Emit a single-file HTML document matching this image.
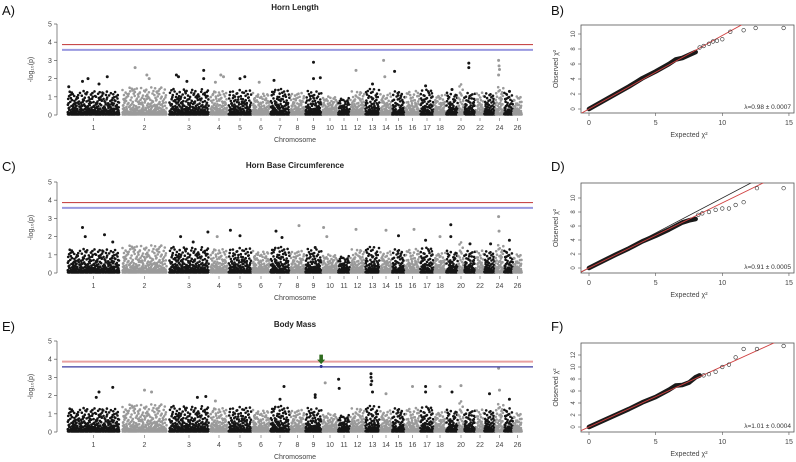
<!DOCTYPE html>
<html><head><meta charset="utf-8"><style>
html,body{margin:0;padding:0;background:#fff;}
svg{display:block;font-family:"Liberation Sans",Arial,sans-serif;}
</style></head><body>
<svg id="fig" width="796" height="462" viewBox="0 0 796 462"></svg>
<script>
// ---- Manhattan data ----
const chromNames = ['1','2','3','4','5','6','7','8','9','10','11','12','13','14','15','16','17','18','19','20','21','22','23','24','25','26'];
const shownLabels = ['1','2','3','4','5','6','7','8','9','10','11','12','13','14','15','16','17','18','20','22','24','26'];
const chromLengths = [55,47,42,18,24,18,20,15,17,16,12,15,15,12,13,15,14,12,12,6,12,8,11,9,9,9];
const bandTop = [1.3,1.5,1.4,1.3,1.35,1.2,1.4,1.2,1.3,1.0,0.9,1.3,1.4,1.2,1.3,1.3,1.4,1.1,1.2,1.7,1.2,1.2,1.2,1.6,1.3,1.0];
const yTicks = [0,1,2,3,4,5];
const redThreshold = 3.87, blueThreshold = 3.58;
const hitsChrA = [1,1,1,1,1,2,2,2,3,3,3,3,3,4,4,4,5,5,6,7,9,9,9,12,13,14,14,15,17,19,21,21,24,24,24,24,25];
const hitsPosA = [.05,.3,.4,.6,.75,.3,.55,.6,.2,.25,.45,.85,.85,.3,.6,.75,.5,.7,.4,.2,.5,.5,.9,.4,.5,.3,.4,.2,.4,.5,.4,.4,.4,.45,.5,.4,.6];
const hitsValA = [1.55,1.85,2.0,1.7,2.1,2.6,2.2,2.0,2.2,2.1,1.85,2.45,2.0,1.8,2.2,2.1,2.0,2.1,1.8,1.9,2.9,2.0,2.05,2.45,1.7,3.0,2.1,2.4,1.6,1.4,2.85,2.6,3.0,2.7,2.5,2.2,1.3];
const hitsChrC = [1,1,1,1,3,3,3,4,5,5,7,7,8,9,10,10,12,14,15,16,17,18,19,19,21,23,24,24,25];
const hitsPosC = [.3,.35,.7,.85,.3,.6,.95,.4,.1,.5,.3,.6,.6,.6,.1,.3,.4,.5,.5,.6,.4,.5,.4,.4,.5,.6,.4,.45,.6];
const hitsValC = [2.5,2.0,2.1,1.7,2.0,1.7,2.25,2.0,2.35,2.05,2.3,1.95,2.6,1.4,2.5,2.0,2.4,2.35,2.05,2.4,1.8,2.0,2.65,2.0,1.6,1.6,3.1,2.3,1.8];
const hitsChrE = [1,1,1,2,2,3,3,4,7,7,9,9,9,10,11,11,13,13,13,13,13,14,16,17,17,18,19,20,23,24,24,25];
const hitsPosE = [.6,.85,.55,.5,.65,.7,.9,.3,.7,.5,.6,.6,.95,.2,.05,.1,.4,.4,.45,.4,.5,.5,.5,.4,.4,.5,.5,.5,.5,.4,.5,.6];
const hitsValE = [2.2,2.45,1.9,2.3,2.2,1.9,1.95,1.7,2.5,1.8,2.05,1.9,3.6,2.7,2.9,2.4,3.2,3.0,2.8,2.6,2.2,2.1,2.5,2.5,2.2,2.5,2.2,2.55,2.1,3.5,2.3,1.8];

// ---- QQ data ----
const qqTicksX = [0,5,10,15];
const bodyExpB = [0,1,2,3,4,5,6,6.5,7,7.5,8];
const bodyObsB = [0,1,2,3,4.1,5,6,6.6,6.8,7.2,7.6];
const tailExpB = [8.3,8.6,9,9.3,9.6,10,10.6,11.6,12.5,14.6];
const tailObsB = [8.2,8.4,8.7,9.0,9.1,9.3,10.3,10.5,10.8,10.8];
const bodyExpD = [0,1,2,3,4,5,6,7,7.5,8];
const bodyObsD = [0,0.95,1.9,2.8,3.8,4.6,5.5,6.5,6.8,7.0];
const tailExpD = [8.2,8.5,9,9.5,10,10.5,11,11.6,12.6,14.6];
const tailObsD = [7.6,7.8,8.0,8.3,8.5,8.5,9.0,9.4,11.4,11.4];
const bodyExpF = [0,1,2,3,4,5,6,6.5,7,7.5,8,8.3];
const bodyObsF = [0,1,2,3,4.1,5,6.2,6.9,7.0,7.4,8.3,8.6];
const tailExpF = [8.6,9,9.5,10,10.5,11,11.6,12.6,14.6];
const tailObsF = [8.6,8.8,9.2,10.0,10.4,11.6,13.0,13.0,13.5];

const NS='http://www.w3.org/2000/svg';
const svg=document.getElementById('fig');
function mk(tag,attrs,parent){const e=document.createElementNS(NS,tag);for(const k in attrs)e.setAttribute(k,attrs[k]);(parent||svg).appendChild(e);return e;}
function txt(s,x,y,size,attrs,parent){const t=mk('text',Object.assign({x:x,y:y,'font-size':size,fill:'#222','text-anchor':'middle'},attrs||{}),parent);t.textContent=s;return t;}
function halton(i,b){let f=1,r=0;while(i>0){f/=b;r+=f*(i%b);i=Math.floor(i/b);}return r;}

const totalLen=chromLengths.reduce((a,b)=>a+b,0);
const starts=[];{let c=0;chromLengths.forEach(l=>{starts.push(c);c+=l;});}

function manhattan(name,title,top,hc,hp,hv,arrow){
  const g=mk('g',{});
  
  
  const y0=top+91, ppu=18.2, x0=66, x1=522, axX=57;
  const ys=v=>y0-v*ppu;
  const xs=(c,f)=>x0+(starts[c]+f*chromLengths[c])/totalLen*(x1-x0);
  const t=txt(title,295,top-14,8,{'font-weight':'bold'},g);
  
  const ax=mk('g',{},g);
  mk('line',{x1:axX,y1:ys(0),x2:axX,y2:ys(5),stroke:'#555','stroke-width':0.7},ax);
  yTicks.forEach(v=>{mk('line',{x1:axX-3,y1:ys(v),x2:axX,y2:ys(v),stroke:'#555','stroke-width':0.7},ax);
    txt(String(v),axX-7,ys(v)+2.5,7,{fill:'#444'},ax);});
  const yt=txt('-log\u2081\u2080(p)',0,0,7,{fill:'#444',transform:`translate(33,${ys(2.5)}) rotate(-90)`},g);
  
  const pts=mk('g',{},g);
  let k=1;
  chromLengths.forEach((L,c)=>{
    const col=(c%2===0)?'#151515':'#9a9a9a';
    const n=Math.round(L*(x1-x0)/totalLen*7);
    let d='';
    for(let i=0;i<n;i++,k++){
      const fx=halton(k,2), u=halton(k,3);
      const v=0.03+bandTop[c]*Math.pow(u,3.2);
      const x=xs(c,0.03+0.94*fx), y=ys(v);
      d+=`M${(x-1.3).toFixed(1)},${y.toFixed(1)}a1.3,1.3 0 1,0 2.6,0a1.3,1.3 0 1,0 -2.6,0`;
    }
    const p=mk('path',{d:d,fill:col},pts);
    
    
  });
  hc.forEach((c,i)=>{
    const col=((c-1)%2===0)?'#151515':'#9a9a9a';
    const cc=mk('circle',{cx:xs(c-1,hp[i]),cy:ys(hv[i]),r:1.5,fill:(hv[i]>3.55&&arrow)?'#1a237e':col},pts);
    
  });
  const rl=mk('line',{x1:62,y1:ys(redThreshold),x2:533,y2:ys(redThreshold),stroke:arrow?'#e8a0a0':'#c84a4a','stroke-width':arrow?2:1.2},g);
  
  const bl=mk('line',{x1:62,y1:ys(blueThreshold),x2:533,y2:ys(blueThreshold),stroke:arrow?'#3a3aa0':'#9a9ae0','stroke-width':arrow?1.2:2},g);
  
  if(arrow){
    const ac=hv.indexOf(3.6);
    const xa=xs(hc[ac]-1,hp[ac]);
    const a=mk('path',{d:`M${xa-1.8},${ys(4.25)}h3.6v5h2.2l-4,4.5l-4,-4.5h2.2z`,fill:'#2e6b1e'},g);
    
  }
  const xa=mk('g',{},g);
  shownLabels.forEach(lab=>{const c=chromNames.indexOf(lab);const x=xs(c,0.5);
    mk('line',{x1:x,y1:y0+3,x2:x,y2:y0+6,stroke:'#666','stroke-width':0.6},xa);
    txt(lab,x,y0+15,7,{fill:'#444'},xa);});
  const xt=txt('Chromosome',295,y0+27,7,{fill:'#444'},g);
  
}

function qq(name,top,bot,y0px,ppuY,yMaxTick,bodyE,bodyO,tailE,tailO,slope,lam,showBlack){
  const g=mk('g',{});
  
  const fx0=581,fx1=794,x0=589,ppuX=13.33;
  const xs=v=>x0+v*ppuX, ys=v=>y0px-v*ppuY;
  const clip='clip-'+name;
  const cp=mk('clipPath',{id:clip},g);mk('rect',{x:fx0,y:top,width:fx1-fx0,height:bot-top},cp);
  const f=mk('rect',{x:fx0,y:top,width:fx1-fx0,height:bot-top,fill:'none',stroke:'#555','stroke-width':0.8},g);
  
  const inner=mk('g',{'clip-path':`url(#${clip})`},g);
  const xa=mk('g',{},g);
  qqTicksX.forEach(v=>{mk('line',{x1:xs(v),y1:bot,x2:xs(v),y2:bot+3,stroke:'#555','stroke-width':0.6},xa);
    txt(String(v),xs(v),bot+12,7,{fill:'#444'},xa);});
  const ya=mk('g',{},g);
  for(let v=0;v<=yMaxTick;v+=2){mk('line',{x1:fx0-3,y1:ys(v),x2:fx0,y2:ys(v),stroke:'#555','stroke-width':0.6},ya);
    txt(String(v),0,0,6,{fill:'#444',transform:`translate(${fx0-6},${ys(v)}) rotate(-90)`},ya);}
  const xt=txt('Expected  \u03c7\u00b2',xs(7.5),bot+24,7,{fill:'#444'},g);
  
  const yt=txt('Observed  \u03c7\u00b2',0,0,7,{fill:'#444',transform:`translate(558,${(top+bot)/2}) rotate(-90)`},g);
  
  if(showBlack){const l=mk('line',{x1:xs(-1),y1:ys(-1),x2:xs(16),y2:ys(16),stroke:'#222','stroke-width':0.8},inner);
    }
  const body=mk('polyline',{points:bodyE.map((e,i)=>`${xs(e)},${ys(bodyO[i])}`).join(' '),fill:'none',stroke:'#1a1a1a','stroke-width':4.6,'stroke-linejoin':'round','stroke-linecap':'round'},inner);
  
  const rl=mk('line',{x1:xs(-1),y1:ys(-slope),x2:xs(16),y2:ys(16*slope),stroke:'#d04040','stroke-width':0.9},inner);
  
  tailE.forEach((e,i)=>{const c=mk('circle',{cx:xs(e),cy:ys(tailO[i]),r:1.8,fill:'none',stroke:'#333','stroke-width':0.6},g);
    });
  const lt=txt(lam,fx1-3,bot-4,6.5,{'text-anchor':'end',fill:'#333'},g);
  
}

manhattan('manhattan-horn-length','Horn Length',24,hitsChrA,hitsPosA,hitsValA,false);
manhattan('manhattan-horn-base','Horn Base Circumference',182,hitsChrC,hitsPosC,hitsValC,false);
manhattan('manhattan-body-mass','Body Mass',341,hitsChrE,hitsPosE,hitsValE,true);
qq('qq-horn-length',25,113,109,7.5,10,bodyExpB,bodyObsB,tailExpB,tailObsB,0.98,'\u03bb=0.98 \u00b1 0.0007',false);
qq('qq-horn-base',183,273,268,7.0,10,bodyExpD,bodyObsD,tailExpD,tailObsD,0.93,'\u03bb=0.91 \u00b1 0.0005',true);
qq('qq-body-mass',343,432,427,6.0,12,bodyExpF,bodyObsF,tailExpF,tailObsF,1.01,'\u03bb=1.01 \u00b1 0.0004',false);

[['A)',2,15],['B)',551,15],['C)',2,171],['D)',551,171],['E)',2,331],['F)',551,331]].forEach(p=>{
  const t=txt(p[0],p[1],p[2],13,{'text-anchor':'start',fill:'#111'});
  
  
});
</script>
</body></html>
